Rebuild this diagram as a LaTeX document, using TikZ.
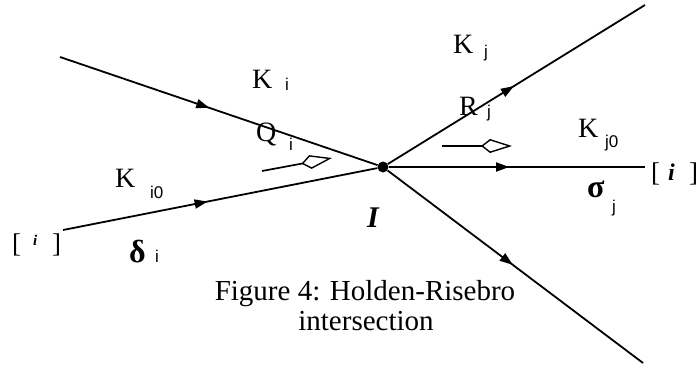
\documentclass[tikz,border=0pt]{standalone}
\usepackage{fontspec}
\setmainfont{Liberation Serif}
\newfontfamily\subfont{Liberation Sans}
\usetikzlibrary{arrows.meta,decorations.markings}
\tikzset{
  edge/.style={line width=1.8pt},
  midarrow/.style={postaction={decorate},decoration={markings,mark=at position #1 with {\arrow{Triangle[length=13pt,width=9pt]}}}},
  flow/.style={line width=1.7pt,-{Kite[open,length=31pt,width=14pt,inset=9pt,line width=1.4pt]}},
  lab/.style={anchor=base west,inner sep=0pt,font=\fontsize{28}{28}\selectfont},
  sublab/.style={anchor=base west,inner sep=0pt,font=\subfont\fontsize{17}{17}\selectfont},
  greek/.style={anchor=base west,inner sep=0pt,font=\bfseries\fontsize{32}{32}\selectfont},
  brack/.style={anchor=base west,inner sep=0pt,font=\fontsize{27}{27}\selectfont},
  captxt/.style={anchor=base,inner sep=0pt,font=\fontsize{29}{29}\selectfont},
}
\begin{document}
\begin{tikzpicture}[x=1pt,y=-1pt]
\useasboundingbox (0,0) rectangle (698,367);
% junction
\node[circle,fill=black,inner sep=0pt,minimum size=11pt] (X) at (383,167) {};
\coordinate (A) at (60,57);
\coordinate (B) at (63,230);
\coordinate (C) at (645,5);
\coordinate (D) at (645,167);
\coordinate (E) at (643,363);
\draw[edge,midarrow=0.47] (A) -- (X);
\draw[edge,midarrow=0.46] (B) -- (X);
\draw[edge,midarrow=0.49] (X) -- (C);
\draw[edge,midarrow=0.47] (X) -- (D);
\draw[edge,midarrow=0.49] (X) -- (E);
% hollow flow arrows
\coordinate (q1) at (262,171);
\coordinate (q2) at (332,158);
\draw[flow] (q1) -- (q2);
\coordinate (r1) at (442,146);
\coordinate (r2) at (512,146);
\draw[flow] (r1) -- (r2);
% labels
\node[lab] (Ki) at (252,88) {K};
\node[sublab] (Kis) at (285,90) {i};
\node[lab] (Qi) at (256,141) {Q};
\node[sublab] (Qis) at (289,150) {i};
\node[lab] (Ki0) at (115,187) {K};
\node[sublab] (Ki0s) at (150,198) {i0};
\node[brack] (lb1) at (12,252) {[};
\node[anchor=base west,inner sep=0pt,font=\bfseries\itshape\fontsize{15}{15}\selectfont] (li1) at (33,245) {i};
\node[brack] (rb1) at (52,252) {]};
\node[greek] (del) at (129,262) {δ};
\node[sublab] (dels) at (155,262) {i};
\node[anchor=base west,inner sep=0pt,font=\bfseries\itshape\fontsize{30}{30}\selectfont] (I) at (367,227) {I};
\node[lab] (Kj) at (453,53) {K};
\node[sublab] (Kjs) at (484,57) {j};
\node[lab] (Rj) at (459,115) {R};
\node[sublab] (Rjs) at (487,117) {j};
\node[lab] (Kj0) at (578,137) {K};
\node[sublab] (Kj0s) at (605,147) {j0};
\node[brack] (lb2) at (651,181) {[};
\node[anchor=base west,inner sep=0pt,font=\bfseries\itshape\fontsize{24}{24}\selectfont] (li2) at (668,180) {i};
\node[brack] (rb2) at (689,181) {]};
\node[greek] (sig) at (587,197) {σ};
\node[sublab] (sigs) at (612,212) {j};
% caption
\node[captxt] (cap1) at (365,300) {Figure 4: Holden-Risebro};
\node[captxt] (cap2) at (366,330) {intersection};
\end{tikzpicture}
\end{document}
